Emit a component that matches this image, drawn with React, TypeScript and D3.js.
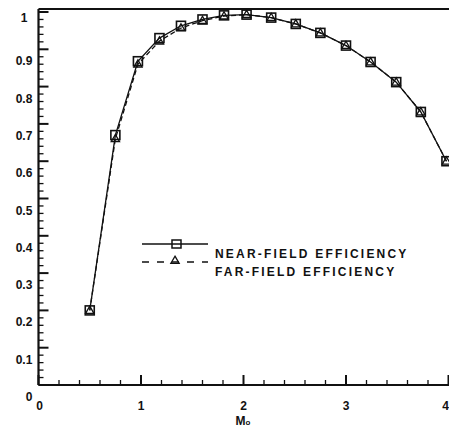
import React, { useEffect, useRef } from "react";
import * as d3 from "d3";

// Mach number and efficiency
const machNumbers = [0.5, 0.75, 0.97, 1.18, 1.39, 1.6, 1.81, 2.03, 2.27, 2.51, 2.75, 3.0, 3.24, 3.49, 3.73, 3.98];
const nearField = [0.2, 0.67, 0.868, 0.93, 0.963, 0.98, 0.991, 0.993, 0.985, 0.968, 0.944, 0.91, 0.866, 0.812, 0.732, 0.6];
const farField = [0.2, 0.66, 0.86, 0.922, 0.957, 0.977, 0.989, 0.993, 0.985, 0.968, 0.944, 0.91, 0.866, 0.812, 0.732, 0.6];
const xTicks = [0, 1, 2, 3, 4];
const yTicks = [0.1, 0.2, 0.3, 0.4, 0.5, 0.6, 0.7, 0.8, 0.9, 1];
const legendLabels = ["NEAR-FIELD EFFICIENCY", "FAR-FIELD EFFICIENCY"];

const W = 449;
const H = 430;
const FONT = "'Liberation Sans', Arial, sans-serif";

export default function App() {
  const ref = useRef<SVGSVGElement>(null);

  useEffect(() => {
    document.body.style.margin = "0";
    const svg = d3.select(ref.current);
    svg.selectAll("*").remove();

    const x = d3.scaleLinear().domain([0, 4]).range([38.5, 448.5]);
    const y = d3.scaleLinear().domain([0, 1]).range([385, 12]);
    const x0 = x(0);
    const y0 = y(0);

    const g = svg.append("g").attr("stroke", "#111").attr("fill", "none");

    // frame
    g.append("line").attr("x1", x0).attr("x2", x0).attr("y1", 9).attr("y2", y0).attr("stroke-width", 2.2);
    g.append("line").attr("x1", x0).attr("x2", W).attr("y1", y0).attr("y2", y0).attr("stroke-width", 2.2);
    g.append("line").attr("x1", x0).attr("x2", W).attr("y1", 9).attr("y2", 9).attr("stroke-width", 2.2);

    // minor / major ticks
    const xMinor = d3.range(0, 4.001, 0.2);
    g.selectAll(".xt")
      .data(xMinor)
      .enter()
      .append("line")
      .attr("x1", (d) => x(d))
      .attr("x2", (d) => x(d))
      .attr("y1", y0)
      .attr("y2", (d) => y0 - (Math.abs(d - Math.round(d)) < 1e-6 ? 10 : 5))
      .attr("stroke-width", (d) => (Math.abs(d - Math.round(d)) < 1e-6 ? 2 : 1.3));

    const yMinor = d3.range(0, 1.0001, 0.02);
    g.selectAll(".yt")
      .data(yMinor)
      .enter()
      .append("line")
      .attr("y1", (d) => y(d))
      .attr("y2", (d) => y(d))
      .attr("x1", x0)
      .attr("x2", (d) => x0 + (Math.abs(d * 10 - Math.round(d * 10)) < 1e-6 ? 10 : 5))
      .attr("stroke-width", (d) => (Math.abs(d * 10 - Math.round(d * 10)) < 1e-6 ? 2 : 1.3));

    const txt = svg
      .append("g")
      .attr("font-family", FONT)
      .attr("font-weight", "bold")
      .attr("font-size", 12)
      .attr("fill", "#111");

    txt
      .selectAll(".xl")
      .data(xTicks)
      .enter()
      .append("text")
      .attr("x", (d) => (d === 4 ? W : x(d) + (d === 0 ? 1 : 0)))
      .attr("y", 410)
      .attr("text-anchor", (d) => (d === 4 ? "end" : "middle"))
      .text((d) => String(d));

    txt
      .selectAll(".yl")
      .data(yTicks)
      .enter()
      .append("text")
      .attr("x", 24)
      .attr("y", (d) => y(d) + (d === 1 ? 10 : 16))
      .attr("text-anchor", "middle")
      .text((d) => String(d));

    txt.append("text").attr("x", 29).attr("y", 401).attr("text-anchor", "middle").text("0");

    txt.append("text").attr("x", 243).attr("y", 425).attr("text-anchor", "middle").text("M")
      .append("tspan").attr("font-size", 8).text("o");

    const near = machNumbers.map((m, i) => [m, nearField[i]] as [number, number]);
    const far = machNumbers.map((m, i) => [m, farField[i]] as [number, number]);
    const line = d3.line<[number, number]>().x((d) => x(d[0])).y((d) => y(d[1]));

    const plot = svg.append("g").attr("stroke", "#111").attr("fill", "none");
    plot.append("path").attr("d", line(far)).attr("stroke-width", 1.3).attr("stroke-dasharray", "5,3");
    plot.append("path").attr("d", line(near)).attr("stroke-width", 1.3);

    const tri = d3.symbol().type(d3.symbolTriangle).size(30);
    plot
      .selectAll(".tri")
      .data(far)
      .enter()
      .append("path")
      .attr("d", tri())
      .attr("transform", (d) => `translate(${x(d[0])},${y(d[1]) + 0.5})`)
      .attr("stroke-width", 1.3);

    plot
      .selectAll(".sq")
      .data(near)
      .enter()
      .append("rect")
      .attr("x", (d) => x(d[0]) - 4.5)
      .attr("y", (d) => y(d[1]) - 4.5)
      .attr("width", 9)
      .attr("height", 9)
      .attr("stroke-width", 1.6);

    // legend
    const lg = svg.append("g").attr("stroke", "#111").attr("fill", "none");
    lg.append("line").attr("x1", 142).attr("x2", 208).attr("y1", 244).attr("y2", 244).attr("stroke-width", 1.3);
    lg.append("rect").attr("x", 172).attr("y", 240).attr("width", 9).attr("height", 8).attr("stroke-width", 1.5);
    lg.append("line").attr("x1", 142).attr("x2", 208).attr("y1", 262).attr("y2", 262)
      .attr("stroke-width", 1.3).attr("stroke-dasharray", "7,8");
    lg.append("path").attr("d", tri()).attr("transform", "translate(175,261)").attr("stroke-width", 1.3);

    txt
      .selectAll(".lt")
      .data(legendLabels)
      .enter()
      .append("text")
      .attr("x", 215)
      .attr("y", (d, i) => 258 + i * 18)
      .attr("font-size", 12)
      .attr("letter-spacing", 2.2)
      .text((d) => d);
  }, []);

  return (
    <svg
      ref={ref}
      width={W}
      height={H}
      style={{ display: "block", position: "absolute", left: 0, top: 0, background: "#fff" }}
    />
  );
}
